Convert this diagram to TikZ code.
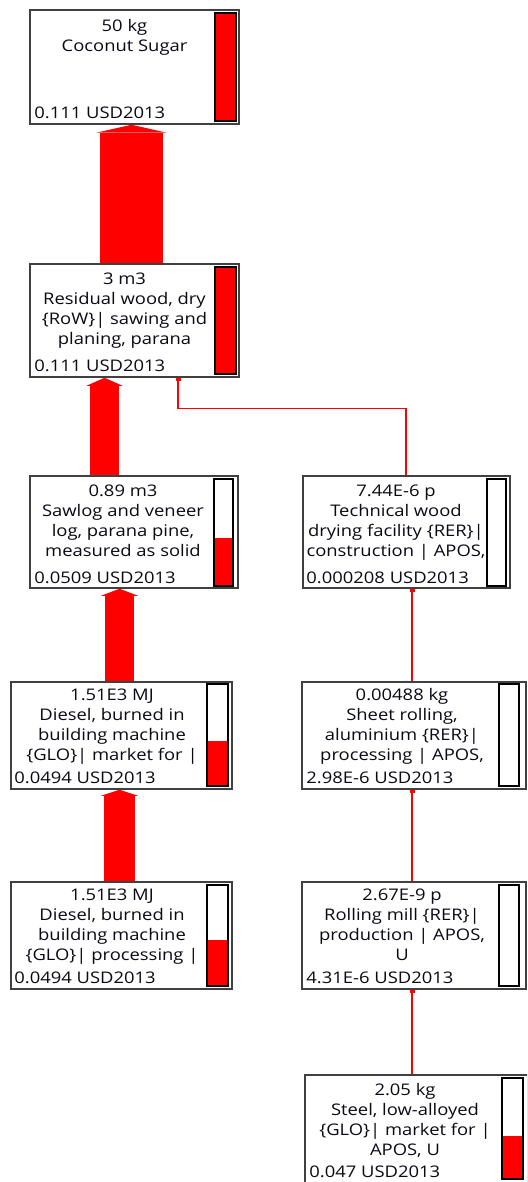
\documentclass[tikz,border=0pt]{standalone}
\usepackage{fontspec}
\setmainfont{Open Sans}[FakeStretch=1.15]
\usepackage{xcolor}
\usetikzlibrary{arrows.meta}
\usetikzlibrary{calc, positioning}
\definecolor{flowred}{RGB}{255,0,0}
\definecolor{boxgray}{RGB}{64,64,64}
\definecolor{inkblack}{RGB}{10,10,20}

\begin{document}
\begin{tikzpicture}[x=1pt, y=-1pt,
  procbox/.style={draw=boxgray, line width=1.5pt, fill=white, inner sep=0pt},
  title/.style={inner sep=0pt, align=center, text=inkblack, font=\fontsize{16}{20}\selectfont},
  value/.style={inner sep=0pt, text=inkblack, font=\fontsize{16}{20}\selectfont},
  levelbar/.style={draw=black, line width=1.3pt, minimum width=21pt, inner sep=0pt,
    anchor=north east,
    path picture={\fill[flowred] (path picture bounding box.south west) rectangle
      ($(path picture bounding box.south east)!#1!(path picture bounding box.north east)$);}},
  bigflow/.style={draw=flowred, line cap=butt},
  thinflow/.style={draw=flowred, line width=1.5pt, -{Rectangle[length=3pt,width=5pt]}}
]
\useasboundingbox (0,0) rectangle (527,1182);
\clip (0,0) rectangle (527,1182);

% process boxes
\node[procbox, minimum width=209pt, minimum height=114pt] (sugar) at (134.5,67) {};
\node[procbox, minimum width=209pt, minimum height=113pt] (resid) at (134.5,320.5) {};
\node[procbox, minimum width=208pt, minimum height=112pt] (sawlog) at (134,532) {};
\node[procbox, minimum width=207pt, minimum height=112pt] (drying) at (406.5,532) {};
\node[procbox, minimum width=221pt, minimum height=107pt] (dieselmkt) at (121.5,735.5) {};
\node[procbox, minimum width=224pt, minimum height=107pt] (sheet) at (414,735.5) {};
\node[procbox, minimum width=221pt, minimum height=107pt] (dieselproc) at (121.5,935.5) {};
\node[procbox, minimum width=224pt, minimum height=107pt] (mill) at (414,935.5) {};
\node[procbox, minimum width=223pt, minimum height=120pt] (steel) at (416.5,1135) {};

% level bars
\node[levelbar=1, minimum height=108pt] (sugarbar) at ([shift={(-3,3)}]sugar.north east) {};
\node[levelbar=1, minimum height=107pt] (residbar) at ([shift={(-3,3)}]resid.north east) {};
\node[levelbar=0.45, minimum width=19pt, minimum height=107pt] (sawlogbar) at ([shift={(-5,3)}]sawlog.north east) {};
\node[levelbar=0, minimum width=19pt, minimum height=107pt] (dryingbar) at ([shift={(-4,3)}]drying.north east) {};
\node[levelbar=0.44, minimum height=102pt] (dieselmktbar) at ([shift={(-4,2)}]dieselmkt.north east) {};
\node[levelbar=0, minimum width=20pt, minimum height=102pt] (sheetbar) at ([shift={(-7,2)}]sheet.north east) {};
\node[levelbar=0.45, minimum height=101pt] (dieselprocbar) at ([shift={(-4,3)}]dieselproc.north east) {};
\node[levelbar=0, minimum width=20pt, minimum height=101pt] (millbar) at ([shift={(-7,3)}]mill.north east) {};
\node[levelbar=0.42, minimum height=101pt] (steelbar) at ([shift={(-5,3)}]steel.north east) {};

% titles
\node[title, anchor=north] (sugartxt) at ([shift={(-10,10)}]sugar.north) {50 kg\\Coconut Sugar};
\node[title, anchor=north] (residtxt) at ([shift={(-10,9)}]resid.north) {3 m3\\Residual wood, dry\\\{RoW\}| sawing and\\planing, parana};
\node[title, anchor=north] (sawlogtxt) at ([shift={(-11,9)}]sawlog.north) {0.89 m3\\Sawlog and veneer\\log, parana pine,\\measured as solid};
\node[title, anchor=north] (dryingtxt) at ([shift={(-10.5,9)}]drying.north) {7.44E-6 p\\Technical wood\\drying facility \{RER\}|\\construction | APOS,};
\node[title, anchor=north] (dieselmkttxt) at ([shift={(-9.5,7)}]dieselmkt.north) {1.51E3 MJ\\Diesel, burned in\\building machine\\\{GLO\}| market for |};
\node[title, anchor=north] (sheettxt) at ([shift={(-12,7)}]sheet.north) {0.00488 kg\\Sheet rolling,\\aluminium \{RER\}|\\processing | APOS,};
\node[title, anchor=north] (dieselproctxt) at ([shift={(-9.5,7)}]dieselproc.north) {1.51E3 MJ\\Diesel, burned in\\building machine\\\{GLO\}| processing |};
\node[title, anchor=north] (milltxt) at ([shift={(-12,7)}]mill.north) {2.67E-9 p\\Rolling mill \{RER\}|\\production | APOS,\\U};
\node[title, anchor=north] (steeltxt) at ([shift={(-11.5,9)}]steel.north) {2.05 kg\\Steel, low-alloyed\\\{GLO\}| market for |\\APOS, U};

% costs
\node[value, anchor=base west] (sugarval) at ([shift={(5,-6)}]sugar.south west) {0.111 USD2013};
\node[value, anchor=base west] (residval) at ([shift={(5,-6)}]resid.south west) {0.111 USD2013};
\node[value, anchor=base west] (sawlogval) at ([shift={(5,-5)}]sawlog.south west) {0.0509 USD2013};
\node[value, anchor=base west] (dryingval) at ([shift={(4,-5)}]drying.south west) {0.000208 USD2013};
\node[value, anchor=base west] (dieselmktval) at ([shift={(4,-6)}]dieselmkt.south west) {0.0494 USD2013};
\node[value, anchor=base west] (sheetval) at ([shift={(5,-6)}]sheet.south west) {2.98E-6 USD2013};
\node[value, anchor=base west] (dieselprocval) at ([shift={(4,-6)}]dieselproc.south west) {0.0494 USD2013};
\node[value, anchor=base west] (millval) at ([shift={(5,-6)}]mill.south west) {4.31E-6 USD2013};
\node[value, anchor=base west] (steelval) at ([xshift=5pt]steel.south west |- 0,1177) {0.047 USD2013};

% main flows
\draw[bigflow, line width=63pt, -{Triangle[width=71pt,length=8pt,line width=0pt]}]
  ([xshift=-3pt]resid.north) -- ([xshift=-3pt]sugar.south);
\draw[bigflow, line width=29pt, -{Triangle[width=36pt,length=8pt,line width=0pt]}]
  ([xshift=-29.5pt]sawlog.north) -- ([xshift=-29.5pt]sawlog.north |- resid.south);
\draw[bigflow, line width=29pt, -{Triangle[width=37pt,length=7pt,line width=0pt]}]
  ([xshift=-2pt]dieselmkt.north) -- ([xshift=-2pt]dieselmkt.north |- sawlog.south);
\draw[bigflow, line width=31pt, -{Triangle[width=37pt,length=6pt,line width=0pt]}]
  ([xshift=-2pt]dieselproc.north) -- ([xshift=-2pt]dieselmkt.south);

% small flows
\draw[thinflow] ([xshift=-0.5pt]drying.north) -- ++(0,-67) -| ([xshift=43.5pt]resid.south);
\draw[thinflow] ([xshift=-2pt]sheet.north) -- ([xshift=-2pt]sheet.north |- drying.south);
\draw[thinflow] ([xshift=-2pt]mill.north) -- ([xshift=-2pt]sheet.south);
\draw[thinflow] ([xshift=-4.5pt]steel.north) -- ([xshift=-4.5pt]steel.north |- mill.south);
\end{tikzpicture}
\end{document}
